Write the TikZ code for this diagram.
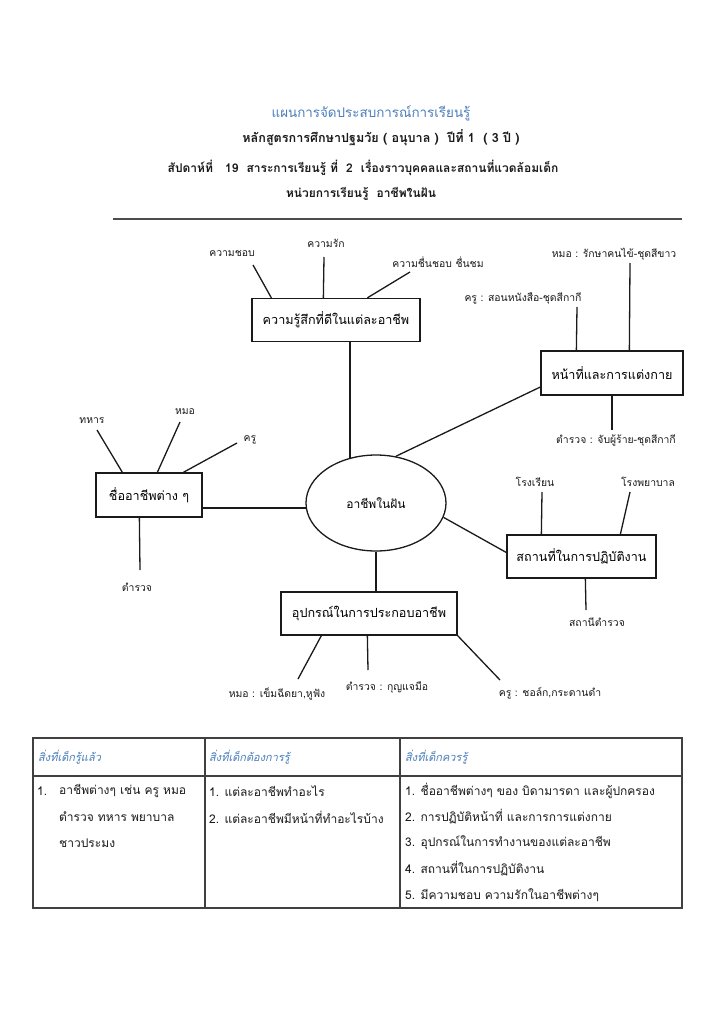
\documentclass[tikz,border=0pt]{standalone}
\usepackage{fontspec}
\setmainfont[Script=Thai]{Loma}
\usetikzlibrary{shapes.geometric}
\definecolor{tblue}{HTML}{4A7EBB}
\definecolor{ink}{HTML}{1A1A1A}
\begin{document}
\begin{tikzpicture}[x=1pt,y=-1pt,
  box/.style={draw=ink,line width=1.3pt,inner sep=0pt,font=\fontsize{12.6}{14}\selectfont},
  lbl/.style={inner sep=0pt,font=\fontsize{10.4}{12}\selectfont,text=ink},
  conn/.style={line width=1.3pt,draw=ink},
  ttl/.style={inner sep=0pt,font=\bfseries\fontsize{12}{14}\selectfont,text=ink},
  cell/.style={anchor=west,inner sep=0pt,font=\fontsize{12}{14}\selectfont,text=ink},
  hcell/.style={anchor=west,inner sep=0pt,font=\itshape\fontsize{11}{13}\selectfont,text=tblue}]
\useasboundingbox[fill=white] (0,0) rectangle (724,1024);

% header
\node[ttl,text=tblue,font=\fontsize{13.4}{15}\selectfont] (t1) at (371,113) {แผนการจัดประสบการณ์การเรียนรู้};
\node[ttl,font=\bfseries\fontsize{12.6}{14}\selectfont] (t2) at (381,138) {หลักสูตรการศึกษาปฐมวัย ( อนุบาล )\ \ ปีที่ 1\ \ ( 3 ปี )};
\node[ttl] (t3) at (363,168) {สัปดาห์ที่\ \ \ 19\ \ สาระการเรียนรู้ ที่\ \ 2\ \ เรื่องราวบุคคลและสถานที่แวดล้อมเด็ก};
\node[ttl] (t4) at (361,194) {หน่วยการเรียนรู้\ \ อาชีพในฝัน};
\coordinate (r1) at (113,219);
\coordinate (r2) at (682,219);
\draw[line width=2.2pt,draw=black!70] (r1) -- (r2);

% central ellipse
\node[ellipse,draw=ink,line width=1.3pt,minimum width=140pt,minimum height=96pt,inner sep=0pt,font=\fontsize{12}{14}\selectfont] (ell) at (376,503) {อาชีพในฝัน};

% boxes
\node[box,minimum width=168pt,minimum height=43pt] (top) at (336,320) {ความรู้สึกที่ดีในแต่ละอาชีพ};
\node[box,minimum width=142pt,minimum height=44pt] (rt) at (612,373) {หน้าที่และการแต่งกาย};
\node[box,minimum width=106pt,minimum height=44pt] (lf) at (149,495) {ชื่ออาชีพต่าง ๆ};
\node[box,minimum width=149pt,minimum height=43pt] (rb) at (581.5,556.5) {สถานที่ในการปฏิบัติงาน};
\node[box,minimum width=176pt,minimum height=43pt] (bt) at (369,613.5) {อุปกรณ์ในการประกอบอาชีพ};

% labels
\node[lbl] (l1) at (232,254) {ความชอบ};
\node[lbl] (l2) at (326,243) {ความรัก};
\node[lbl] (l3) at (438,262) {ความชื่นชอบ ชื่นชม};
\node[lbl] (l4) at (523,298) {ครู : สอนหนังสือ-ชุดสีกากี};
\node[lbl] (l5) at (614,254) {หมอ : รักษาคนไข้-ชุดสีขาว};
\node[lbl] (l6) at (616,440) {ตำรวจ : จับผู้ร้าย-ชุดสีกากี};
\node[lbl] (l7) at (92,421) {ทหาร};
\node[lbl] (l8) at (185,412) {หมอ};
\node[lbl] (l9) at (250,440) {ครู};
\node[lbl] (l10) at (137,587) {ตำรวจ};
\node[lbl] (l11) at (535,482) {โรงเรียน};
\node[lbl] (l12) at (648,482) {โรงพยาบาล};
\node[lbl] (l13) at (597,622) {สถานีตำรวจ};
\node[lbl] (l14) at (277,694) {หมอ : เข็มฉีดยา,หูฟัง};
\node[lbl] (l15) at (387,687) {ตำรวจ : กุญแจมือ};
\node[lbl] (l16) at (550,693) {ครู : ชอล์ก,กระดานดำ};

% free ends
\coordinate (e1) at (253,265);
\coordinate (e2) at (324,257);
\coordinate (e3) at (410,272);
\coordinate (e4) at (577,307);
\coordinate (e5) at (630,263);
\coordinate (e6) at (612,430);
\coordinate (e7) at (97,430);
\coordinate (e8) at (180,422);
\coordinate (e9) at (237,443);
\coordinate (e10) at (140,570);
\coordinate (e11) at (542,492);
\coordinate (e12) at (630,492);
\coordinate (e13) at (586,610);
\coordinate (e14) at (298,679);
\coordinate (e15) at (368,670);
\coordinate (e16) at (500,680);

% connectors
\draw[conn] (e1) -- ([xshift=20pt]top.north west);
\draw[conn] (e2) -- ([xshift=72pt]top.north west);
\draw[conn] (e3) -- ([xshift=116pt]top.north west);
\draw[conn] (ell.120) -- (ell.120 |- top.south);
\draw[conn] (e4) -- ([xshift=36pt]rt.north west);
\draw[conn] (e5) -- ([xshift=89pt]rt.north west);
\draw[conn] (rt.south) -- (e6);
\draw[conn] (ell.67) -- ([yshift=-14pt]rt.west);
\draw[conn] (e7) -- ([xshift=27pt]lf.north west);
\draw[conn] (e8) -- ([xshift=62pt]lf.north west);
\draw[conn] (e9) -- ([xshift=88pt]lf.north west);
\draw[conn] ([xshift=44pt]lf.south west) -- (e10);
\draw[conn] (ell.184) -- (ell.184 -| lf.east);
\draw[conn] (ell.-12) -- ([yshift=4pt]rb.west);
\draw[conn] (e11) -- ([xshift=35pt]rb.north west);
\draw[conn] (e12) -- ([xshift=114pt]rb.north west);
\draw[conn] ([xshift=79pt]rb.south west) -- (e13);
\draw[conn] (ell.south) -- (ell.south |- bt.north);
\draw[conn] ([xshift=41pt]bt.south west) -- (e14);
\draw[conn] ([xshift=87pt]bt.south west) -- (e15);
\draw[conn] (bt.south east) -- (e16);

% table
\draw[line width=1.8pt,draw=black!75] (33,738) rectangle (682,908);
\draw[line width=1.5pt,draw=black!75] (33,776) -- (682,776);
\draw[line width=1.8pt,draw=black!75] (205,738) -- (205,908);
\draw[line width=1.8pt,draw=black!75] (400,738) -- (400,908);

\node[hcell] (h1) at (38,757) {สิ่งที่เด็กรู้แล้ว};
\node[hcell] (h2) at (209,757) {สิ่งที่เด็กต้องการรู้};
\node[hcell] (h3) at (405,757) {สิ่งที่เด็กควรรู้};

\node[cell] (a0) at (37,791) {1.};
\node[cell] (a1) at (59,791) {อาชีพต่างๆ เช่น ครู หมอ};
\node[cell] (a2) at (59,817) {ตำรวจ ทหาร พยาบาล};
\node[cell] (a3) at (59,843) {ชาวประมง};

\node[cell] (b1) at (209,791) {1. แต่ละอาชีพทำอะไร};
\node[cell] (b2) at (209,817) {2. แต่ละอาชีพมีหน้าที่ทำอะไรบ้าง};

\node[cell] (c1) at (405,791) {1. ชื่ออาชีพต่างๆ ของ บิดามารดา และผู้ปกครอง};
\node[cell] (c2) at (405,817) {2. การปฏิบัติหน้าที่ และการการแต่งกาย};
\node[cell] (c3) at (405,843) {3. อุปกรณ์ในการทำงานของแต่ละอาชีพ};
\node[cell] (c4) at (405,869) {4. สถานที่ในการปฏิบัติงาน};
\node[cell] (c5) at (405,895) {5. มีความชอบ ความรักในอาชีพต่างๆ};
\end{tikzpicture}
\end{document}
